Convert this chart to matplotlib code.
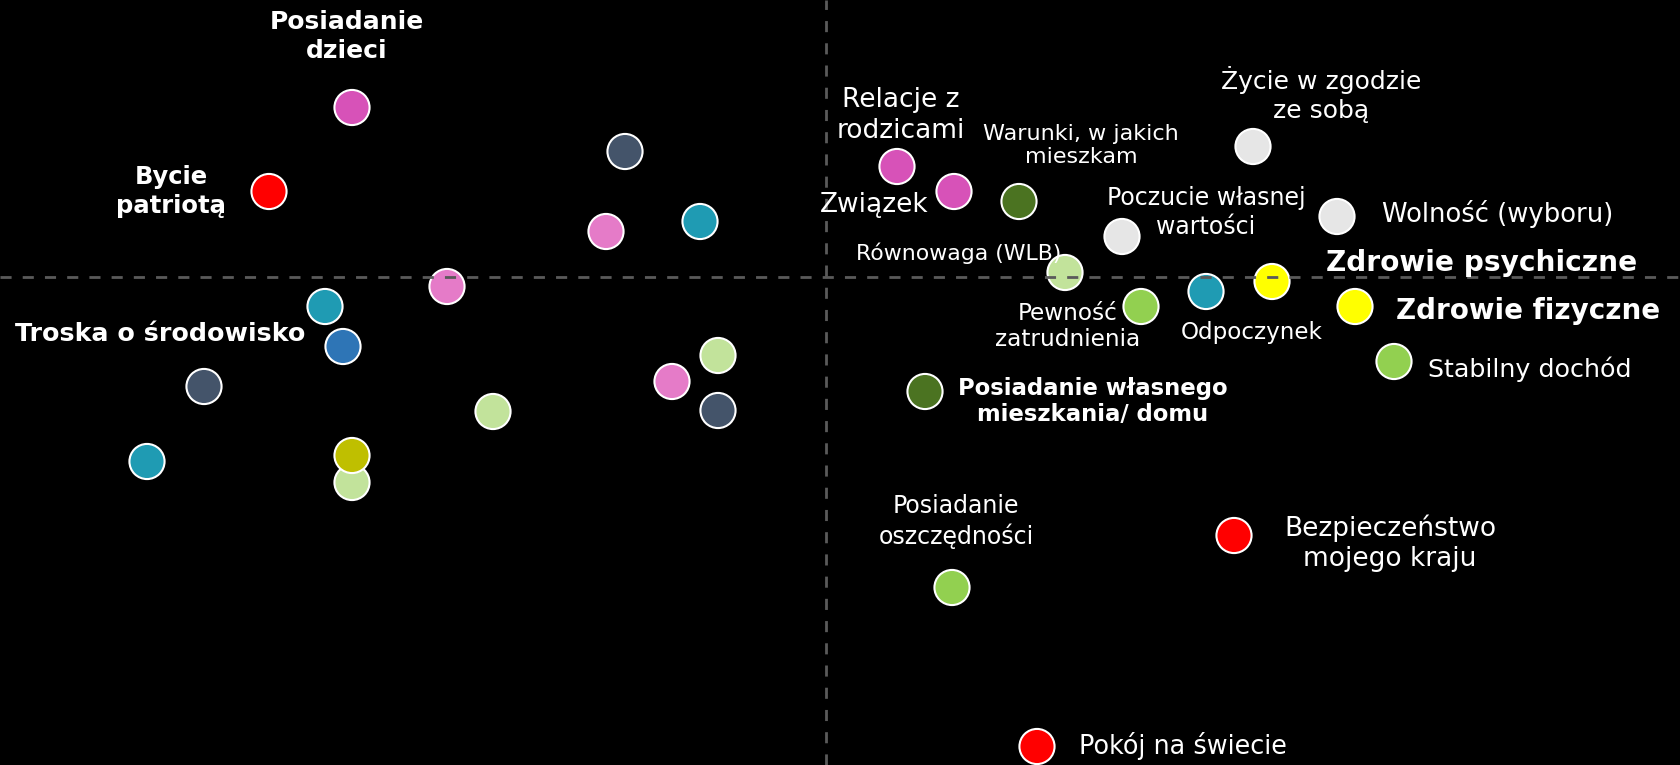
import matplotlib.pyplot as plt

plt.rcParams['font.family'] = ['DejaVu Sans']

# punkty (pozycja względem środka mapy)
names = ['Posiadanie dzieci', 'Bycie patriotą', '', '', '', '', '', 'Troska o środowisko',
         '', '', '', '', '', '', '', '',
         'Relacje z rodzicami', 'Związek', 'Warunki, w jakich mieszkam', 'Życie w zgodzie ze sobą',
         'Poczucie własnej wartości', 'Wolność (wyboru)', 'Równowaga (WLB)', 'Zdrowie psychiczne',
         'Odpoczynek', 'Pewność zatrudnienia', 'Zdrowie fizyczne', 'Stabilny dochód',
         'Posiadanie własnego mieszkania/ domu', 'Posiadanie oszczędności',
         'Bezpieczeństwo mojego kraju', 'Pokój na świecie']
x = [-47.4, -55.7, -20.1, -22.0, -12.6, -37.9, -50.1, -48.3,
     -62.2, -33.3, -10.8, -15.4, -10.8, -67.9, -47.4, -47.4,
     7.1, 12.8, 19.3, 42.7, 29.6, 51.1, 23.9, 44.6,
     38.0, 31.5, 52.9, 56.8, 9.9, 12.6, 40.8, 21.1]
y = [17.0, 8.6, 12.6, 4.6, 5.6, -0.9, -2.9, -6.9,
     -10.9, -13.4, -7.8, -10.4, -13.3, -18.4, -20.5, -17.8,
     11.1, 8.6, 7.6, 13.1, 4.1, 6.1, 0.5, -0.4,
     -1.4, -2.9, -2.9, -8.4, -11.4, -31.0, -25.8, -46.9]

MAG, PINK, SLATE, TEAL, BLUE = '#D752B8', '#E57BC8', '#44546A', '#1F9BB3', '#2E75B6'
LGREEN, GREEN, DGREEN, OLIVE = '#C2E39B', '#92D050', '#4B7321', '#BFBF00'
GRAY, YEL, RED = '#E6E6E6', '#FFFF00', '#FF0000'
colors = [MAG, RED, SLATE, PINK, TEAL, PINK, TEAL, BLUE,
          SLATE, LGREEN, LGREEN, PINK, SLATE, TEAL, LGREEN, OLIVE,
          MAG, MAG, DGREEN, GRAY, GRAY, GRAY, LGREEN, YEL,
          TEAL, GREEN, YEL, GREEN, DGREEN, GREEN, RED, RED]

# etykiety: tekst, przesunięcie (px), wyrównanie, rozmiar, pogrubienie
labels = {
    'Posiadanie dzieci': ('Posiadanie\ndzieci', -5, 71, 'center', 18, True),
    'Bycie patriotą': ('Bycie\npatriotą', -98, 0, 'center', 17.5, True),
    'Troska o środowisko': ('Troska o środowisko', -38, 12, 'right', 18.3, True),
    'Relacje z rodzicami': ('Relacje z\nrodzicami', 4, 51, 'center', 19, False),
    'Związek': ('Związek', -80, -13, 'center', 19, False),
    'Warunki, w jakich mieszkam': ('Warunki, w jakich\nmieszkam', 62, 56, 'center', 16, False),
    'Życie w zgodzie ze sobą': ('Życie w zgodzie\nze sobą', 68, 52, 'center', 18, False),
    'Poczucie własnej wartości': ('Poczucie własnej\nwartości', 84, 24, 'center', 17, False),
    'Wolność (wyboru)': ('Wolność (wyboru)', 45, 2, 'left', 18.6, False),
    'Równowaga (WLB)': ('Równowaga (WLB)', -106, 19, 'center', 15.8, False),
    'Zdrowie psychiczne': ('Zdrowie psychiczne', 54, 18, 'left', 20.2, True),
    'Odpoczynek': ('Odpoczynek', 46, -41, 'center', 16.6, False),
    'Pewność zatrudnienia': ('Pewność\nzatrudnienia', -73, -20, 'center', 16.7, False),
    'Zdrowie fizyczne': ('Zdrowie fizyczne', 41, -5, 'left', 20, True),
    'Stabilny dochód': ('Stabilny dochód', 34, -8, 'left', 18.3, False),
    'Posiadanie własnego mieszkania/ domu': ('Posiadanie własnego\nmieszkania/ domu', 168, -10, 'center', 16.4, True),
    'Posiadanie oszczędności': ('Posiadanie\noszczędności', 4, 66, 'center', 17, False),
    'Bezpieczeństwo mojego kraju': ('Bezpieczeństwo\nmojego kraju', 156, -8, 'center', 19, False),
    'Pokój na świecie': ('Pokój na świecie', 42, 0, 'left', 18.4, False),
}

fig = plt.figure(figsize=(16.8, 7.65), dpi=100, facecolor='black')
ax = fig.add_axes([0, 0, 1, 1], facecolor='black')
ax.set_xlim(-82.6, 85.4)
ax.set_ylim(-48.75, 27.75)
ax.axis('off')

ax.scatter(x, y, s=640, c=colors, edgecolors='white', linewidths=1.5, zorder=2)
ax.axhline(0, color='#5a5a5a', lw=2, ls=(0, (4, 4)), zorder=3)
ax.axvline(0, color='#5a5a5a', lw=2, ls=(0, (4, 4)), zorder=3)

for n, xi, yi in zip(names, x, y):
    if n not in labels:
        continue
    txt, dx, dy, ha, fs, bold = labels[n]
    ax.annotate(txt, (xi, yi), xytext=(dx, dy), textcoords='offset pixels',
                ha=ha, va='center', multialignment='center', color='white',
                fontsize=fs, fontweight='bold' if bold else 'normal',
                linespacing=1.22, zorder=4)

fig.savefig('out.png', dpi=100, facecolor='black')
